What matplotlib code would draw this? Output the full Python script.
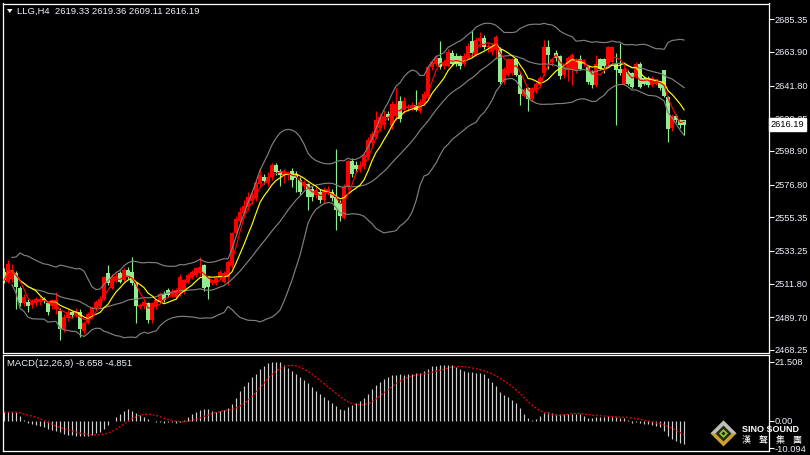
import matplotlib
matplotlib.use("Agg")
import matplotlib.pyplot as plt
import matplotlib.transforms as mtransforms
from matplotlib.patches import Polygon
import numpy as np
import pandas as pd

plt.rcParams['font.family'] = ['Liberation Sans', 'DejaVu Sans']

# LLG H4 candles, oldest first
opens = [
    2519.6, 2513, 2515, 2518.5, 2509, 2499, 2500, 2498, 2499, 2500,
    2501.5, 2499, 2497, 2495, 2494, 2482, 2489, 2493, 2492, 2493,
    2481, 2486, 2491, 2495.5, 2497, 2502, 2518.5, 2509, 2514, 2518.5,
    2514, 2521, 2519.6, 2512, 2496.6, 2497, 2499, 2488, 2497, 2500,
    2505, 2507.6, 2504.3, 2503, 2505.4, 2506.5, 2513, 2516.3, 2517.4, 2518.5,
    2524, 2516.3, 2512, 2512, 2515.2, 2513, 2516, 2524, 2545, 2553,
    2558, 2562, 2566, 2568, 2577, 2582, 2578, 2582, 2590, 2586,
    2583, 2583, 2586, 2584, 2580, 2576, 2577, 2574, 2570, 2572,
    2567, 2572, 2572, 2569, 2565, 2555, 2575, 2592, 2590, 2587,
    2589, 2595, 2604, 2608, 2614, 2616, 2623, 2615, 2622, 2632,
    2626, 2627, 2627, 2629, 2625, 2630, 2635, 2654, 2656, 2660,
    2655, 2655, 2663, 2661, 2661, 2656, 2660, 2671, 2662, 2671,
    2673, 2667, 2664, 2665, 2666, 2644, 2649, 2650, 2659, 2649,
    2635, 2640, 2633, 2639, 2642, 2650, 2667, 2657, 2663, 2661,
    2649, 2652, 2652, 2652, 2659, 2656, 2654, 2651, 2642, 2659,
    2659, 2656, 2657, 2656, 2653, 2643, 2651, 2650, 2648, 2656,
    2647, 2647, 2642, 2643, 2644, 2652, 2634, 2614, 2622, 2619,
    2619.33,
]
highs = [
    2522, 2527.5, 2525, 2520, 2510, 2505, 2502, 2502, 2503, 2504,
    2503, 2500, 2502, 2506.5, 2496, 2492, 2495, 2494, 2496, 2495,
    2487, 2493, 2497, 2501, 2504, 2517, 2524, 2518, 2519, 2520,
    2522, 2523, 2529.5, 2513, 2499, 2501, 2500, 2500, 2502, 2506,
    2507, 2509, 2508, 2509, 2518, 2515, 2519, 2521, 2523, 2529.5,
    2525, 2517, 2515, 2516, 2521, 2520, 2527, 2546, 2556, 2562,
    2567, 2572, 2573, 2580, 2588, 2584, 2585, 2591, 2591, 2587,
    2587, 2586, 2588, 2586, 2582, 2580, 2578, 2576, 2575, 2574,
    2575, 2576, 2574, 2600, 2567, 2577, 2593, 2594, 2592, 2592,
    2598, 2608, 2612, 2625, 2624, 2626, 2625, 2632, 2640, 2635,
    2634, 2630, 2631, 2639, 2633, 2638, 2655, 2658, 2662, 2671,
    2659, 2666, 2665, 2663, 2662, 2663, 2670, 2678, 2674, 2677,
    2675, 2670, 2670, 2675, 2667, 2654, 2660, 2660, 2660, 2650,
    2640, 2641, 2641, 2644, 2648, 2672, 2672, 2660, 2665, 2662,
    2655, 2661, 2663, 2660, 2662, 2659, 2655, 2652, 2662, 2660,
    2660, 2668, 2668, 2663, 2670, 2654, 2652, 2651, 2657, 2657,
    2648, 2648, 2648, 2647, 2645, 2652, 2635, 2623, 2623, 2620,
    2619.36,
]
lows = [
    2512, 2512, 2513, 2495, 2497, 2497, 2493, 2496, 2497, 2498,
    2499, 2491, 2495, 2492, 2475, 2480, 2487, 2489, 2490, 2477,
    2479, 2485, 2490, 2494, 2496, 2501, 2511, 2508, 2513, 2512,
    2513, 2515, 2511, 2486, 2495, 2495, 2486, 2486, 2495, 2499,
    2500, 2503, 2503, 2502, 2504, 2505, 2512, 2515, 2516, 2517,
    2507, 2502, 2511, 2511, 2514, 2512, 2511, 2522, 2543, 2551,
    2557, 2560, 2564, 2566, 2575, 2577, 2576, 2580, 2583, 2576,
    2578, 2580, 2575, 2572, 2570, 2574, 2560, 2566, 2568, 2565,
    2565, 2570, 2566, 2547, 2553, 2554, 2573, 2582, 2585, 2585,
    2587, 2593, 2602, 2607, 2612, 2613, 2619, 2613, 2619, 2618,
    2624, 2625, 2626, 2625, 2624, 2629, 2633, 2652, 2655, 2653,
    2653, 2654, 2655, 2655, 2653, 2655, 2659, 2661, 2661, 2667,
    2666, 2664, 2662, 2659, 2643, 2643, 2648, 2649, 2648, 2629,
    2634, 2625, 2632, 2637, 2641, 2648, 2653, 2655, 2658, 2646,
    2647, 2645, 2642, 2650, 2652, 2655, 2643, 2640, 2641, 2652,
    2650, 2655, 2656, 2616, 2649, 2642, 2642, 2640, 2647, 2640,
    2642, 2641, 2641, 2642, 2639, 2634, 2605, 2612, 2618, 2614,
    2609.11,
]
closes = [
    2514.1, 2525, 2521, 2509.8, 2499, 2503, 2497, 2500, 2501.5, 2501.5,
    2501, 2493, 2501, 2501, 2482, 2490, 2493, 2491, 2494, 2482,
    2486, 2492, 2496, 2500, 2502, 2516, 2512, 2516, 2517, 2513,
    2521, 2516, 2512, 2497, 2497.7, 2500, 2488, 2499, 2501, 2505,
    2501, 2504.3, 2506.5, 2507.6, 2516.3, 2514, 2517.4, 2519.6, 2521.8, 2523,
    2508.7, 2509.8, 2514, 2515.2, 2519.6, 2518.5, 2526, 2545, 2554, 2559,
    2563, 2569, 2570, 2578, 2583, 2579, 2582, 2590, 2585, 2583,
    2585, 2584, 2580, 2581, 2572, 2578, 2569, 2569, 2573, 2567,
    2573, 2574, 2568, 2560, 2556, 2575, 2592, 2584, 2587, 2590,
    2596, 2606, 2610, 2619, 2621, 2622, 2621, 2630, 2630, 2620,
    2632, 2628, 2629, 2626, 2631, 2636, 2654, 2657, 2660, 2654,
    2657, 2664, 2656, 2656, 2655, 2661, 2668, 2663, 2672, 2673,
    2667, 2668, 2668, 2674, 2644, 2653, 2659, 2659, 2649, 2636,
    2639, 2633, 2640, 2643, 2647, 2667, 2662, 2659, 2660, 2648,
    2654, 2660, 2662, 2659, 2653, 2658, 2644, 2642, 2656, 2653,
    2655, 2667, 2667, 2652, 2650, 2653, 2643, 2641, 2656, 2641,
    2643, 2642, 2647, 2646, 2640, 2635, 2613, 2622, 2619, 2616,
    2616.19,
]

# MACD(12,26,9) main line
macd_hist = [
    3.1, 3.1, 3.1, 3.0, 1.8, 0.4, -0.7, -1.2, -1.6, -2.0,
    -2.5, -3.0, -3.4, -3.8, -4.3, -4.8, -5.1, -5.4, -5.5, -5.6,
    -5.6, -5.5, -5.2, -4.7, -4.0, -3.0, -1.5, -0.2, 1.3, 2.5,
    3.4, 4.2, 3.6, 2.8, 2.0, 1.2, 0.5, -0.2, -0.5, -0.6,
    -0.7, -0.6, -0.5, -0.8, -0.4, 0.3, 1.5, 2.5, 3.3, 4.0,
    4.4, 4.1, 3.6, 3.3, 3.5, 3.8, 4.5, 6.0, 8.3, 10.8,
    12.8, 14.2, 15.8, 17.2, 18.8, 19.9, 21.0, 21.4, 21.5, 21.3,
    20.4, 19.3, 18.2, 17.0, 16.0, 14.8, 13.6, 12.3, 11.0, 9.8,
    8.7, 7.5, 6.5, 5.3, 4.2, 4.0, 4.8, 5.6, 6.5, 7.3,
    8.4, 9.7, 11.5, 13.2, 14.3, 15.2, 16.0, 16.5, 16.8, 17.0,
    16.6, 16.9, 17.1, 17.3, 17.4, 18.2, 19.0, 19.8, 20.1, 20.2,
    20.3, 20.5, 20.2, 19.5, 18.8, 18.3, 17.9, 17.6, 17.4, 17.3,
    16.9, 15.6, 14.0, 12.5, 10.3, 9.4, 8.6, 7.6, 6.5, 4.5,
    2.5, 1.0, 0.3, 0.5, 1.8, 2.8, 3.0, 2.8, 2.6, 2.5,
    2.3, 2.5, 2.6, 2.5, 2.3, 1.6, 0.8, 0.9, 1.5, 1.3,
    1.4, 1.6, 1.5, 1.2, 1.0, 0.9, 0.2, -0.7, -0.5, -0.9,
    -1.1, -1.4, -1.6, -2.0, -2.5, -3.8, -5.5, -6.6, -7.4, -8.1,
    -8.658,
]

price_ticks = [2685.35, 2663.90, 2641.80, 2620.25, 2598.90, 2576.80,
               2555.35, 2533.25, 2511.80, 2489.70, 2468.25]
macd_ticks = [21.508, 0.0, -10.094]
macd_tick_labels = ['21.508', '0.00', '-10.094']

title_text = 'LLG,H4  2619.33 2619.36 2609.11 2616.19'
macd_text = 'MACD(12,26,9) -8.658 -4.851'
last_price = 2616.19

RED = '#ff0000'
GREEN = '#90ee90'
TXT = '#eef2fa'

O = np.array(opens)
H = np.array(highs)
L = np.array(lows)
C = np.array(closes)
x = np.arange(len(C))

s = pd.Series(C)
ma_fast = s.rolling(4, min_periods=1).mean()
ma_slow = s.rolling(8, min_periods=1).mean()
bb_mid = s.rolling(20, min_periods=3).mean()
bb_sd = s.rolling(20, min_periods=3).std(ddof=0)
bb_up = bb_mid + 2 * bb_sd
bb_lo = bb_mid - 2 * bb_sd
signal = pd.Series(macd_hist).rolling(9, min_periods=1).mean()

fig = plt.figure(figsize=(8.1, 4.55), dpi=100, facecolor='black')
ax = fig.add_axes([2.5 / 810, 1 - 352.5 / 455, 766 / 810, 349 / 455])
ax2 = fig.add_axes([2.5 / 810, 1 - 450.7 / 455, 766 / 810, 96 / 455])

for a in (ax, ax2):
    a.set_facecolor('black')
    a.set_xlim(-0.375, 191.1)
    for sp in a.spines.values():
        sp.set_color('white')
        sp.set_linewidth(0.9)
    a.yaxis.tick_right()
    a.tick_params(axis='y', direction='out', length=3.5, width=0.8,
                  color='white', labelcolor=TXT, labelsize=6.7, pad=1)
    a.tick_params(axis='x', bottom=False, labelbottom=False)

# candles (red = up, light green = down)
up = C >= O
cols = np.where(up, RED, GREEN)
ax.vlines(x, L, H, colors=cols, linewidth=0.85, zorder=2)
body_lo = np.minimum(O, C)
body_h = np.maximum(np.abs(C - O), 0.5)
ax.bar(x, body_h, bottom=body_lo, width=0.8, color=cols, linewidth=0, zorder=2)

# bollinger bands and moving averages
for band in (bb_up, bb_mid, bb_lo):
    ax.plot(x, band, color='#808080', linewidth=0.85, zorder=3)
ax.plot(x, ma_slow, color='#ffff00', linewidth=0.85, zorder=4)
ax.plot(x, ma_fast, color=RED, linewidth=0.85, zorder=4)

ax.set_ylim(2466.6, 2695.7)
ax.set_yticks(price_ticks)
ax.set_yticklabels(['%.2f' % t for t in price_ticks])

trans = mtransforms.blended_transform_factory(ax.transAxes, ax.transData)
ax.text(1.0028, last_price, '%.2f' % last_price, transform=trans, fontsize=6.7,
        color='black', va='center', ha='left',
        bbox=dict(boxstyle='square,pad=0.18', fc='white', ec='white'),
        zorder=10, clip_on=False)

# MACD panel
ax2.vlines(x, 0, macd_hist, colors='#d0d0d0', linewidth=0.85)
ax2.plot(x, signal, color=RED, linewidth=0.9, linestyle=(0, (1.5, 1.5)))
ax2.set_ylim(-11.0, 24.1)
ax2.set_yticks(macd_ticks)
ax2.set_yticklabels(macd_tick_labels)

# overlay in pixel coordinates for header text and logo
ov = fig.add_axes([0, 0, 1, 1], zorder=20)
ov.set_xlim(0, 810)
ov.set_ylim(455, 0)
ov.axis('off')
ov.add_patch(Polygon([[7, 9], [12.5, 9], [9.75, 13]], closed=True, fc='white', ec='none'))
ov.text(17, 11, title_text, fontsize=6.8, color=TXT, va='center', ha='left')
ov.text(7, 364, macd_text, fontsize=6.8, color=TXT, va='center', ha='left')

cx, cy = 723.5, 433.5
def diamond(r):
    return [[cx - r, cy], [cx, cy - r], [cx + r, cy], [cx, cy + r]]
ov.add_patch(Polygon(diamond(13), closed=True, fc='#c9a032', ec='none'))
ov.add_patch(Polygon([[cx - 13, cy], [cx, cy - 13], [cx + 13, cy]], closed=True,
                     fc='#bdbdbd', ec='none'))
ov.add_patch(Polygon(diamond(8), closed=True, fc='#2a2a10', ec='none'))
ov.add_patch(Polygon(diamond(4.5), closed=True, fc='#8cc43c', ec='none'))
ov.add_patch(Polygon(diamond(2), closed=True, fc='#1e1e08', ec='none'))
ov.text(742, 429, 'SINO SOUND', fontsize=6.5, fontweight='bold', color='white',
        va='center', ha='left')
for k, ch in enumerate(['漢', '聲', '集', '團']):
    ov.text(746 + k * 17, 440, ch, fontsize=6.5, color='white', va='center',
            ha='center', family=['Noto Sans CJK TC', 'DejaVu Sans'])

fig.savefig('out.png', dpi=100, facecolor='black')
